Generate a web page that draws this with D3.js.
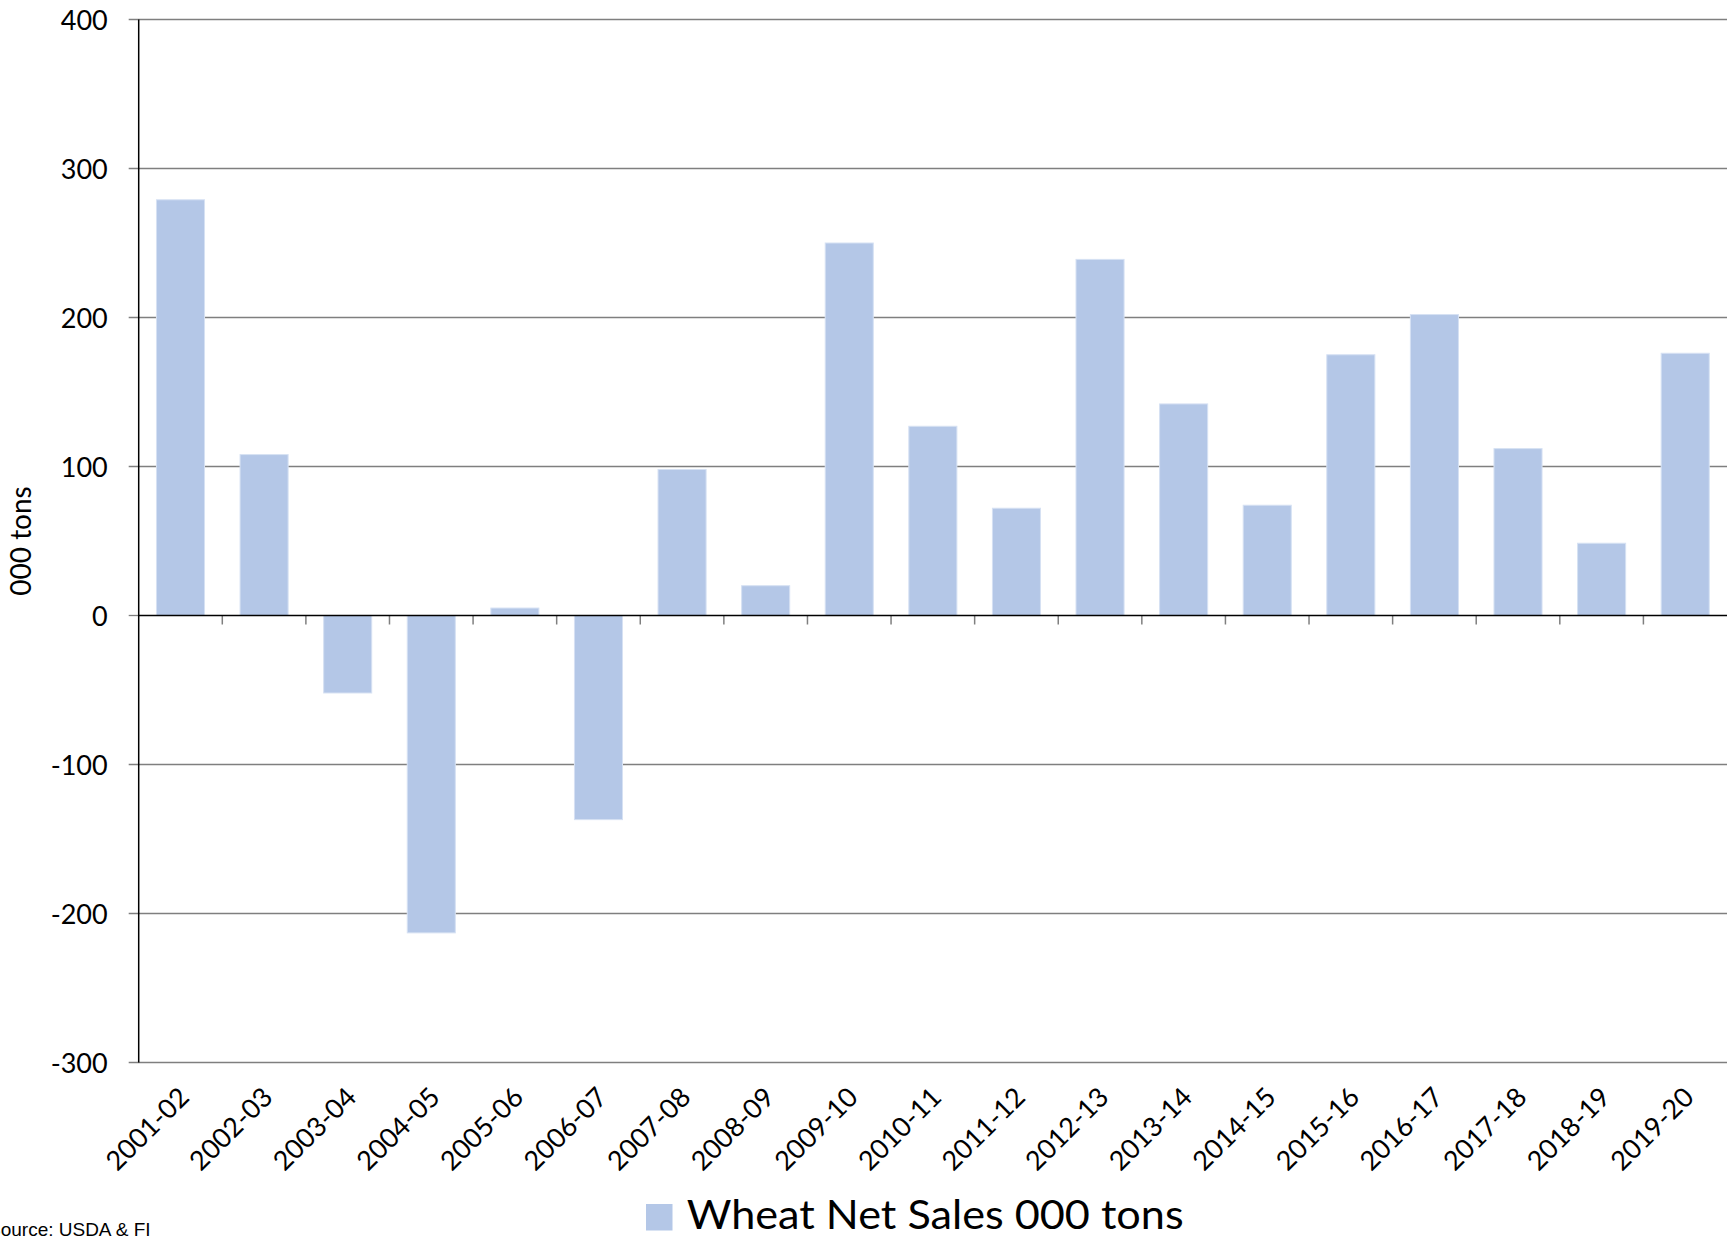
<!DOCTYPE html>
<html>
<head>
<meta charset="utf-8">
<script src="https://cdn.jsdelivr.net/npm/d3@7"></script>
<style>
  html, body { margin: 0; padding: 0; background: #fff; overflow: hidden; }
  svg { display: block; }
</style>
</head>
<body>
<svg id="chart" width="1727" height="1238"></svg>
<script>
const categories = ["2001-02","2002-03","2003-04","2004-05","2005-06","2006-07","2007-08","2008-09","2009-10","2010-11","2011-12","2012-13","2013-14","2014-15","2015-16","2016-17","2017-18","2018-19","2019-20"];
const netSales = [279, 108, -52, -213, 5, -137, 98, 20, 250, 127, 72, 239, 142, 74, 175, 202, 112, 48.5, 176];
const yTicks = [-300, -200, -100, 0, 100, 200, 300, 400];
const seriesName = "Wheat Net Sales 000 tons";
const yTitle = "000 tons";
const sourceNote = "Source: USDA & FI";

const svg = d3.select("#chart");
const plotLeft = 138.7, plotRight = 1727, plotTop = 19.5, plotBottom = 1062.5;
const font = "Lato, 'Noto Sans', sans-serif";

const x = d3.scaleBand().domain(categories).range([plotLeft, plotRight]).paddingInner(0.425).paddingOuter(0.2125);
const y = d3.scaleLinear().domain([-300, 400]).range([plotBottom, plotTop]);
const step = x.step();

// gridlines
svg.append("g").selectAll("line").data(yTicks.filter(d => d !== 0)).join("line")
  .attr("x1", plotLeft - 10).attr("x2", plotRight)
  .attr("y1", d => y(d)).attr("y2", d => y(d))
  .attr("stroke", "#7f7f7f").attr("stroke-width", 1.3);

// bars
svg.append("g").selectAll("rect").data(netSales).join("rect")
  .attr("x", (d, i) => x(categories[i]))
  .attr("width", x.bandwidth())
  .attr("y", d => y(Math.max(0, d)))
  .attr("height", d => Math.abs(y(d) - y(0)))
  .attr("fill", "#b4c7e7")
  .attr("stroke", "#d6e1f3").attr("stroke-width", 1);

// y axis labels
const yAxis = d3.axisLeft(y).tickValues(yTicks).tickSize(0).tickPadding(31).tickFormat(d => String(d));
const gy = svg.append("g").attr("transform", `translate(${plotLeft},0)`).call(yAxis);
gy.select(".domain").remove();
gy.selectAll("text").attr("font-family", font).attr("font-size", 27).attr("fill", "#000").attr("dy", "0.36em");

// zero tick left
svg.append("line").attr("x1", plotLeft - 10).attr("x2", plotLeft).attr("y1", y(0)).attr("y2", y(0))
  .attr("stroke", "#7f7f7f").attr("stroke-width", 1.3);

// x axis ticks at band boundaries
const boundaries = categories.map(c => x(c) + x.bandwidth() + (step - x.bandwidth()) / 2).filter(v => v < plotRight - 1);
svg.append("g").selectAll("line").data(boundaries).join("line")
  .attr("x1", d => d).attr("x2", d => d)
  .attr("y1", y(0)).attr("y2", y(0) + 9)
  .attr("stroke", "#7f7f7f").attr("stroke-width", 1.5);

// x axis (zero line)
svg.append("line").attr("x1", plotLeft).attr("x2", plotRight).attr("y1", y(0)).attr("y2", y(0))
  .attr("stroke", "#000").attr("stroke-width", 1.5);
// y axis line
svg.append("line").attr("x1", plotLeft).attr("x2", plotLeft).attr("y1", plotTop).attr("y2", plotBottom)
  .attr("stroke", "#000").attr("stroke-width", 1.5);

// x labels
svg.append("g").selectAll("text").data(categories).join("text")
  .attr("transform", c => `translate(${x(c) + x.bandwidth() / 2 - 4},${plotBottom + 22}) rotate(-45)`)
  .attr("text-anchor", "end")
  .attr("dy", "0.75em")
  .attr("font-family", font).attr("font-size", 27).attr("fill", "#000")
  .text(c => c);

// y title
svg.append("text")
  .attr("transform", `translate(31,541) rotate(-90)`)
  .attr("text-anchor", "middle")
  .attr("font-family", font).attr("font-size", 28).attr("fill", "#000")
  .text(yTitle);

// legend
svg.append("rect").attr("x", 646).attr("y", 1204).attr("width", 26.5).attr("height", 26.5).attr("fill", "#b4c7e7");
const lt = svg.append("text").attr("x", 686.7).attr("y", 1229.3)
  .attr("font-family", font).attr("font-size", 40).attr("fill", "#000")
  .text(seriesName);
const lw = lt.node().getComputedTextLength();
if (Math.abs(lw - 497) > 4) lt.attr("textLength", 497).attr("lengthAdjust", "spacingAndGlyphs");

// source
svg.append("text").attr("x", -12).attr("y", 1236)
  .attr("font-family", "'Liberation Sans', Arial, sans-serif").attr("font-size", 19).attr("fill", "#000")
  .text(sourceNote);
</script>
</body>
</html>
